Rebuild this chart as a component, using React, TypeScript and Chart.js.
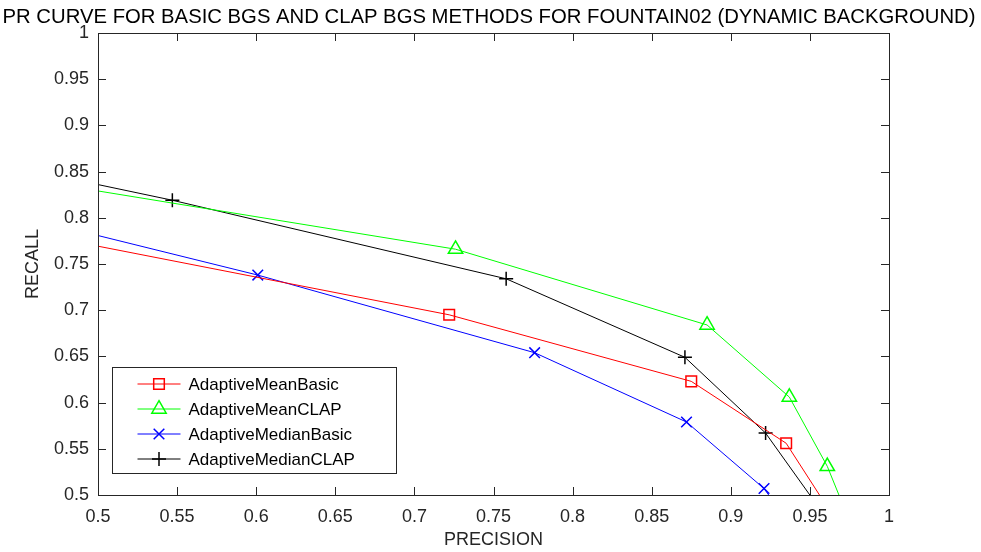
import { useEffect, useRef } from 'react';
import { Chart, registerables } from 'chart.js';
import { drawPoint } from 'chart.js/helpers';

Chart.register(...registerables);

const titleText = 'PR CURVE FOR BASIC BGS AND CLAP BGS METHODS FOR FOUNTAIN02 (DYNAMIC BACKGROUND)';
const xAxisLabel = 'PRECISION';
const yAxisLabel = 'RECALL';

const xTickValues = [0.5, 0.55, 0.6, 0.65, 0.7, 0.75, 0.8, 0.85, 0.9, 0.95, 1];
const xTickLabels = ['0.5', '0.55', '0.6', '0.65', '0.7', '0.75', '0.8', '0.85', '0.9', '0.95', '1'];
const yTickValues = [0.5, 0.55, 0.6, 0.65, 0.7, 0.75, 0.8, 0.85, 0.9, 0.95, 1];
const yTickLabels = ['0.5', '0.55', '0.6', '0.65', '0.7', '0.75', '0.8', '0.85', '0.9', '0.95', '1'];

const seriesNames = ['AdaptiveMeanBasic', 'AdaptiveMeanCLAP', 'AdaptiveMedianBasic', 'AdaptiveMedianCLAP'];

const meanBasicPrecision = [0.45, 0.722, 0.875, 0.935, 0.97];
const meanBasicRecall = [0.786, 0.695, 0.623, 0.556, 0.463];

const meanClapPrecision = [0.45, 0.726, 0.885, 0.937, 0.961, 0.98];
const meanClapRecall = [0.843, 0.766, 0.684, 0.606, 0.531, 0.451];

const medianBasicPrecision = [0.45, 0.601, 0.776, 0.872, 0.921, 0.94];
const medianBasicRecall = [0.802, 0.738, 0.654, 0.579, 0.507, 0.462];

const medianClapPrecision = [0.45, 0.547, 0.758, 0.871, 0.922, 0.97];
const medianClapRecall = [0.854, 0.819, 0.734, 0.649, 0.567, 0.452];

const FONT = '"Liberation Sans", Arial, Helvetica, sans-serif';
const AXIS_COLOR = '#262626';

const seriesStyles = [
  { color: '#ff0000', pointStyle: 'rect', radius: 7.5 },
  { color: '#00ff00', pointStyle: 'triangle', radius: 8.3 },
  { color: '#0000ff', pointStyle: 'crossRot', radius: 7.5 },
  { color: '#000000', pointStyle: 'cross', radius: 7 },
];

function toPoints(xs: number[], ys: number[]) {
  return xs.map((x, i) => ({ x, y: ys[i] }));
}

const decorPlugin = {
  id: 'matlabDecor',
  afterDraw(chart: any) {
    const { ctx, chartArea } = chart;
    const { left, right, top, bottom } = chartArea;
    const xs = chart.scales.x;
    const ys = chart.scales.y;
    ctx.save();
    // frame
    ctx.strokeStyle = AXIS_COLOR;
    ctx.lineWidth = 1;
    ctx.strokeRect(Math.round(left) + 0.5, Math.round(top) + 0.5, Math.round(right - left), Math.round(bottom - top));
    // inner ticks
    const tl = 8;
    ctx.beginPath();
    xs.ticks.forEach((t: any) => {
      const px = Math.round(xs.getPixelForValue(t.value)) + 0.5;
      ctx.moveTo(px, bottom);
      ctx.lineTo(px, bottom - tl);
      ctx.moveTo(px, top);
      ctx.lineTo(px, top + tl);
    });
    ys.ticks.forEach((t: any) => {
      const py = Math.round(ys.getPixelForValue(t.value)) + 0.5;
      ctx.moveTo(left, py);
      ctx.lineTo(left + tl, py);
      ctx.moveTo(right, py);
      ctx.lineTo(right - tl, py);
    });
    ctx.stroke();

    // title
    ctx.fillStyle = '#000000';
    ctx.font = `20.3px ${FONT}`;
    ctx.textAlign = 'center';
    ctx.textBaseline = 'middle';
    ctx.fillText(titleText, 489, 17);

    // legend
    const bx = Math.round(left) + 14.5;
    const by = Math.round(bottom) - 127.5;
    const bw = 284;
    const bh = 106;
    ctx.fillStyle = '#ffffff';
    ctx.fillRect(bx, by, bw, bh);
    ctx.strokeStyle = AXIS_COLOR;
    ctx.lineWidth = 1;
    ctx.strokeRect(bx, by, bw, bh);
    ctx.font = `17px ${FONT}`;
    ctx.textAlign = 'left';
    ctx.textBaseline = 'middle';
    chart.data.datasets.forEach((ds: any, i: number) => {
      const cy = by + 16.5 + i * 25;
      const x0 = bx + 25;
      const x1 = bx + 68;
      ctx.strokeStyle = ds.borderColor;
      ctx.lineWidth = 1;
      ctx.beginPath();
      ctx.moveTo(x0, cy);
      ctx.lineTo(x1, cy);
      ctx.stroke();
      ctx.fillStyle = 'rgba(0,0,0,0)';
      ctx.strokeStyle = ds.borderColor;
      ctx.lineWidth = 1.5;
      drawPoint(ctx, { pointStyle: ds.pointStyle, radius: ds.pointRadius, rotation: 0, borderWidth: 1.5 } as any, (x0 + x1) / 2, cy);
      ctx.fillStyle = '#000000';
      ctx.fillText(ds.label, bx + 76, cy + 1);
    });
    ctx.restore();
  },
};

export default function App() {
  const canvasRef = useRef<HTMLCanvasElement | null>(null);

  useEffect(() => {
    const canvas = canvasRef.current;
    if (!canvas) return;
    const seriesData = [
      toPoints(meanBasicPrecision, meanBasicRecall),
      toPoints(meanClapPrecision, meanClapRecall),
      toPoints(medianBasicPrecision, medianBasicRecall),
      toPoints(medianClapPrecision, medianClapRecall),
    ];
    const chart = new Chart(canvas, {
      type: 'line',
      data: {
        datasets: seriesData.map((data, i) => ({
          label: seriesNames[i],
          data,
          borderColor: seriesStyles[i].color,
          borderWidth: 1,
          pointStyle: seriesStyles[i].pointStyle as any,
          pointRadius: seriesStyles[i].radius,
          pointHoverRadius: seriesStyles[i].radius,
          pointBorderColor: seriesStyles[i].color,
          pointBackgroundColor: 'rgba(0,0,0,0)',
          pointBorderWidth: 1.5,
          tension: 0,
          fill: false,
        })),
      },
      options: {
        animation: false,
        responsive: false,
        events: [],
        layout: { padding: { left: 0, right: 92, top: 33, bottom: 0 } },
        plugins: {
          legend: { display: false },
          title: { display: false },
          tooltip: { enabled: false },
        },
        scales: {
          x: {
            type: 'linear',
            min: 0.5,
            max: 1,
            afterBuildTicks: (scale: any) => {
              scale.ticks = xTickValues.map((v) => ({ value: v }));
            },
            afterFit: (scale: any) => {
              scale.height = 57;
            },
            ticks: {
              autoSkip: false,
              maxRotation: 0,
              minRotation: 0,
              padding: 11,
              color: AXIS_COLOR,
              font: { family: FONT, size: 18 },
              callback: (_v: any, i: number) => xTickLabels[i],
            },
            grid: { display: false, drawTicks: false },
            border: { display: false },
            title: {
              display: true,
              text: xAxisLabel,
              color: AXIS_COLOR,
              font: { family: FONT, size: 18 },
              padding: { top: 0, bottom: 1 },
            },
          },
          y: {
            type: 'linear',
            min: 0.5,
            max: 1,
            afterBuildTicks: (scale: any) => {
              scale.ticks = yTickValues.map((v) => ({ value: v }));
            },
            afterFit: (scale: any) => {
              scale.width = 98;
            },
            ticks: {
              autoSkip: false,
              padding: 9,
              color: AXIS_COLOR,
              font: { family: FONT, size: 18 },
              callback: (_v: any, i: number) => yTickLabels[i],
            },
            grid: { display: false, drawTicks: false },
            border: { display: false },
            title: {
              display: true,
              text: yAxisLabel,
              color: AXIS_COLOR,
              font: { family: FONT, size: 18 },
              padding: { top: 22, bottom: 0 },
            },
          },
        },
      },
      plugins: [decorPlugin],
    });
    return () => chart.destroy();
  }, []);

  return (
    <div style={{ position: 'absolute', left: 0, top: 0, width: 981, height: 552, background: '#ffffff' }}>
      <canvas ref={canvasRef} width={981} height={552} style={{ display: 'block' }} />
    </div>
  );
}
